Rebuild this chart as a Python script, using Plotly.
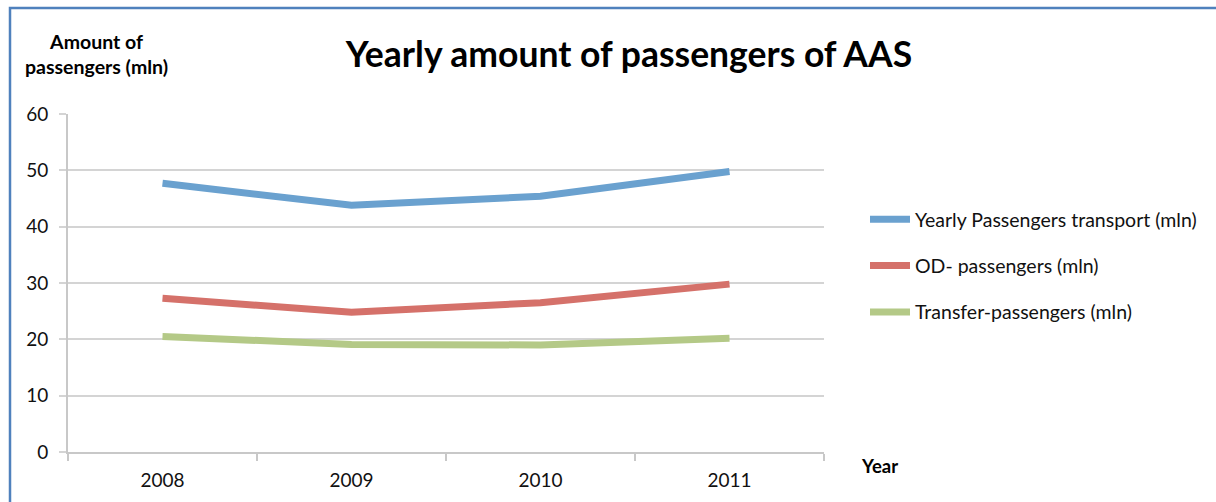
import plotly.graph_objects as go

years = ["2008", "2009", "2010", "2011"]
yearly_total = [47.7, 43.8, 45.4, 49.8]
od_passengers = [27.3, 24.8, 26.5, 29.8]
transfer_passengers = [20.5, 19.1, 19.0, 20.2]
series_names = ["Yearly Passengers transport (mln)", "OD- passengers (mln)", "Transfer-passengers (mln)"]
series_colors = ["#6AA1CF", "#D5716A", "#B4C987"]
y_ticks = [0, 10, 20, 30, 40, 50, 60]

W, H = 1216, 502
L, R, T, B = 68, 824, 114, 452

def px_x(x):
    return (x - L) / (R - L)

def px_y(y):
    return (B - y) / (B - T)

FONT = "Lato, 'Open Sans', sans-serif"

fig = go.Figure()
for i, (name, vals, col) in enumerate(zip(series_names, [yearly_total, od_passengers, transfer_passengers], series_colors)):
    fig.add_trace(go.Scatter(
        x=years, y=vals, name=name, mode="lines",
        line=dict(color=col, width=7),
        legendgroup=f"g{i}",
    ))

fig.update_layout(
    width=W, height=H,
    margin=dict(l=L, r=W - R, t=T, b=H - B),
    paper_bgcolor="white", plot_bgcolor="white",
    font=dict(family=FONT, size=19, color="#111111"),
    showlegend=True,
    legend=dict(
        x=px_x(865), y=px_y(200), xanchor="left", yanchor="top",
        font=dict(family=FONT, size=19.5, color="#111111"),
        tracegroupgap=18, traceorder="grouped",
        bgcolor="rgba(0,0,0,0)", itemwidth=40,
    ),
    title=dict(
        text="<b>Yearly amount of passengers of AAS</b>",
        x=629 / W, xanchor="center",
        y=1 - 55 / H, yanchor="middle",
        font=dict(family=FONT, size=35.5, color="#000000"),
    ),
)

fig.update_xaxes(
    type="category", range=[-0.5, 3.5],
    showgrid=False, showline=True, linecolor="#c8c8c8", linewidth=2,
    ticks="outside", tickson="boundaries", ticklen=7, tickcolor="#c8c8c8", tickwidth=2,
    tickfont=dict(family=FONT, size=19, color="#111111"),
    ticklabelstandoff=10,
)
fig.update_yaxes(
    range=[0, 60], tickvals=y_ticks,
    showgrid=True, gridcolor="#d4d4d4", gridwidth=2,
    showline=True, linecolor="#c8c8c8", linewidth=2,
    ticks="outside", ticklen=7, tickcolor="#d4d4d4", tickwidth=2,
    tickfont=dict(family=FONT, size=19, color="#111111"),
    ticklabelstandoff=7, zeroline=False,
)

fig.add_annotation(
    text="<b>Amount of<br>passengers (mln)</b>",
    xref="paper", yref="paper", x=px_x(96), y=px_y(54),
    xanchor="center", yanchor="middle", showarrow=False,
    font=dict(family=FONT, size=19.5, color="#000000"), align="center",
)
fig.add_annotation(
    text="<b>Year</b>",
    xref="paper", yref="paper", x=px_x(879), y=px_y(466),
    xanchor="center", yanchor="middle", showarrow=False,
    font=dict(family=FONT, size=18.5, color="#000000"),
)

# chart border (left and top edges visible)
fig.add_shape(
    type="path", xref="paper", yref="paper",
    path=f"M {px_x(10)} {px_y(510)} L {px_x(10)} {px_y(8)} L {px_x(1230)} {px_y(8)}",
    line=dict(color="#4F81BD", width=2.5), layer="above",
)

fig.write_html(
    "out.html",
    config={"displayModeBar": False},
    post_script="document.body.style.margin='0';document.body.style.overflow='hidden';",
)
